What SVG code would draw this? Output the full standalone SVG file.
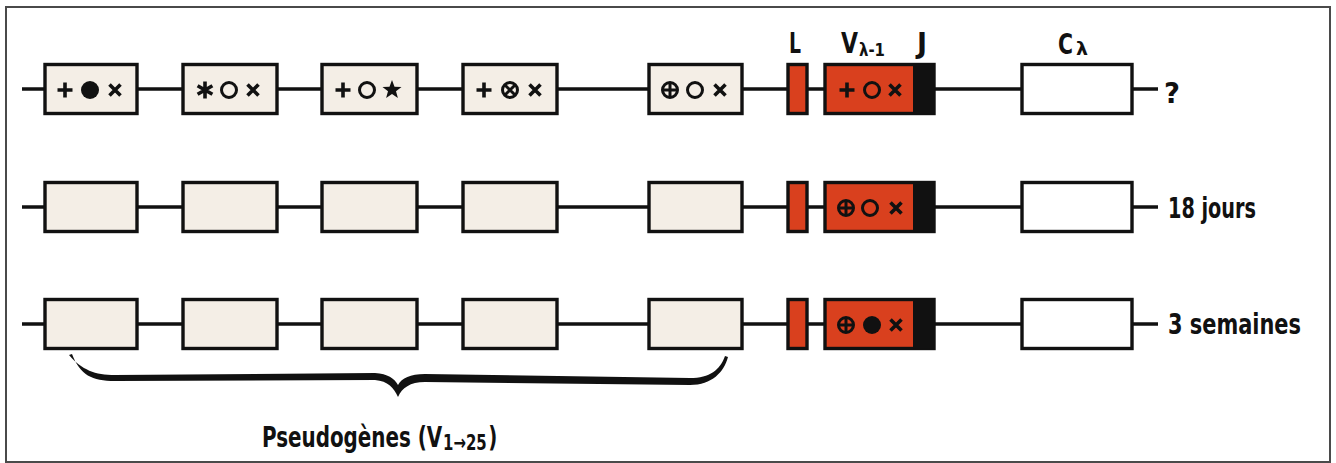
<svg xmlns="http://www.w3.org/2000/svg" xmlns:xlink="http://www.w3.org/1999/xlink" width="1336" height="463" viewBox="0 0 1336 463">
<style>
.frame{fill:#ffffff;stroke:#4a4a4a;stroke-width:2}
.wire{stroke:#111;stroke-width:3.6;fill:none}
.pg{fill:#f4eee6;stroke:#111;stroke-width:3.4}
.red{fill:#d9401e;stroke:#111;stroke-width:3.4}
.jseg{fill:#111}
.cbox{fill:#ffffff;stroke:#111;stroke-width:3.4}
.sym{stroke:#111;stroke-width:3.6;fill:none;stroke-linecap:butt}
.ring{stroke:#111;stroke-width:3;fill:none}
.dot{fill:#111}
.lbl{font-family:"Liberation Sans Narrow","DejaVu Sans Condensed","DejaVu Sans",sans-serif;font-weight:bold;fill:#111;font-size:28px}
.sub{font-size:18px}
.sub2{font-size:21px}
.brace{fill:#111}
</style>
<defs>
<g id="plus"><path class="sym" d="M-7.5,0H7.5M0,-7.5V7.5"/></g>
<g id="times"><path class="sym" d="M-5.5,-5.5L5.5,5.5M5.5,-5.5L-5.5,5.5"/></g>
<g id="ring"><circle class="ring" r="7.5"/></g>
<g id="dot"><circle class="dot" r="9"/></g>
<g id="oplus"><circle class="ring" r="7.5"/><path class="ring" d="M-7.5,0H7.5M0,-7.5V7.5"/></g>
<g id="otimes"><circle class="ring" r="7.5"/><path class="ring" d="M-5.3,-5.3L5.3,5.3M5.3,-5.3L-5.3,5.3"/></g>
<g id="star"><polygon class="dot" points="0,-10 2.5,-3.3 9.5,-3.1 4,1.3 5.9,8.1 0,4.1 -5.9,8.1 -4,1.3 -9.5,-3.1 -2.5,-3.3"/></g>
<g id="aster"><path class="sym" d="M0,-8.5V8.5M-7.4,-4.25L7.4,4.25M-7.4,4.25L7.4,-4.25"/></g>
</defs>

<rect class="frame" x="6" y="7" width="1324" height="455"/>

<g id="connectors">
<line class="wire" x1="22" y1="89" x2="1158" y2="89"/>
<line class="wire" x1="22" y1="207" x2="1158" y2="207"/>
<line class="wire" x1="22" y1="324" x2="1158" y2="324"/>
</g>

<g id="labels-top">
<text class="lbl" x="789" y="53" textLength="12" lengthAdjust="spacingAndGlyphs">L</text>
<text class="lbl" x="841" y="53" textLength="17" lengthAdjust="spacingAndGlyphs">V</text>
<text class="lbl sub" x="859" y="56" textLength="26" lengthAdjust="spacingAndGlyphs">λ-1</text>
<text class="lbl" x="917" y="53" textLength="10" lengthAdjust="spacingAndGlyphs">J</text>
<text class="lbl" x="1058" y="54" textLength="15" lengthAdjust="spacingAndGlyphs">C</text>
<text class="lbl sub" x="1076" y="55" textLength="12" lengthAdjust="spacingAndGlyphs">λ</text>
</g>

<!-- Row 1 -->
<g id="row1-pg1"><rect class="pg" x="45" y="64.5" width="92" height="49"/><use xlink:href="#plus" x="65" y="90"/><use xlink:href="#dot" x="90" y="90"/><use xlink:href="#times" x="115" y="90"/></g>
<g id="row1-pg2"><rect class="pg" x="183" y="64.5" width="94" height="49"/><use xlink:href="#aster" x="205" y="90"/><use xlink:href="#ring" x="229" y="90"/><use xlink:href="#times" x="253" y="90"/></g>
<g id="row1-pg3"><rect class="pg" x="322" y="64.5" width="95" height="49"/><use xlink:href="#plus" x="343" y="90"/><use xlink:href="#ring" x="367" y="90"/><use xlink:href="#star" x="392" y="90"/></g>
<g id="row1-pg4"><rect class="pg" x="463" y="64.5" width="94" height="49"/><use xlink:href="#plus" x="484" y="90"/><use xlink:href="#otimes" x="510" y="90"/><use xlink:href="#times" x="535" y="90"/></g>
<g id="row1-pg5"><rect class="pg" x="649" y="64.5" width="93" height="49"/><use xlink:href="#oplus" x="670" y="90"/><use xlink:href="#ring" x="695" y="90"/><use xlink:href="#times" x="720" y="90"/></g>
<g id="row1-L"><rect class="red" x="788" y="64.5" width="19" height="49"/></g>
<g id="row1-VJ"><rect class="red" x="825" y="64.5" width="109" height="49"/><rect class="jseg" x="913" y="64.5" width="21" height="49"/><use xlink:href="#plus" x="847" y="90"/><use xlink:href="#ring" x="872" y="90"/><use xlink:href="#times" x="895" y="90"/></g>
<g id="row1-C"><rect class="cbox" x="1022" y="64.5" width="110" height="49"/></g>
<g id="row1-label"><text class="lbl" x="1164" y="103" font-size="32" textLength="16" lengthAdjust="spacingAndGlyphs">?</text></g>

<!-- Row 2 -->
<g id="row2-pg1"><rect class="pg" x="45" y="182.5" width="92" height="49"/></g>
<g id="row2-pg2"><rect class="pg" x="183" y="182.5" width="94" height="49"/></g>
<g id="row2-pg3"><rect class="pg" x="322" y="182.5" width="95" height="49"/></g>
<g id="row2-pg4"><rect class="pg" x="463" y="182.5" width="94" height="49"/></g>
<g id="row2-pg5"><rect class="pg" x="649" y="182.5" width="93" height="49"/></g>
<g id="row2-L"><rect class="red" x="788" y="182.5" width="19" height="49"/></g>
<g id="row2-VJ"><rect class="red" x="825" y="182.5" width="109" height="49"/><rect class="jseg" x="913" y="182.5" width="21" height="49"/><use xlink:href="#oplus" x="846" y="208"/><use xlink:href="#ring" x="870" y="208"/><use xlink:href="#times" x="896" y="208"/></g>
<g id="row2-C"><rect class="cbox" x="1022" y="182.5" width="110" height="49"/></g>
<g id="row2-label"><text class="lbl" x="1168" y="218" textLength="88" lengthAdjust="spacingAndGlyphs">18 jours</text></g>

<!-- Row 3 -->
<g id="row3-pg1"><rect class="pg" x="45" y="299.5" width="92" height="49"/></g>
<g id="row3-pg2"><rect class="pg" x="183" y="299.5" width="94" height="49"/></g>
<g id="row3-pg3"><rect class="pg" x="322" y="299.5" width="95" height="49"/></g>
<g id="row3-pg4"><rect class="pg" x="463" y="299.5" width="94" height="49"/></g>
<g id="row3-pg5"><rect class="pg" x="649" y="299.5" width="93" height="49"/></g>
<g id="row3-L"><rect class="red" x="788" y="299.5" width="19" height="49"/></g>
<g id="row3-VJ"><rect class="red" x="825" y="299.5" width="109" height="49"/><rect class="jseg" x="913" y="299.5" width="21" height="49"/><use xlink:href="#oplus" x="846" y="325"/><use xlink:href="#dot" x="872" y="325"/><use xlink:href="#times" x="896" y="325"/></g>
<g id="row3-C"><rect class="cbox" x="1022" y="299.5" width="110" height="49"/></g>
<g id="row3-label"><text class="lbl" x="1168" y="334" textLength="133" lengthAdjust="spacingAndGlyphs">3 semaines</text></g>

<g id="brace">
<path class="brace" d="M72,354 C80,375 92,381 115,381 L375,380 C388,381 394,388 398,397 C402,388 410,382 425,382 L690,385 C712,385 724,372 728,357 L725,356 C720,370 710,378 690,378 L425,374 C410,374 402,378 398,385 C394,378 388,374 375,373 L115,375 C95,375 82,370 69,355 Z"/>
<text class="lbl" transform="translate(262,447) scale(0.79,1)" x="0" y="0">Pseudogènes (V<tspan class="sub2" dx="1" dy="3">1→25</tspan><tspan dx="2" dy="-3">)</tspan></text>
</g>
</svg>
